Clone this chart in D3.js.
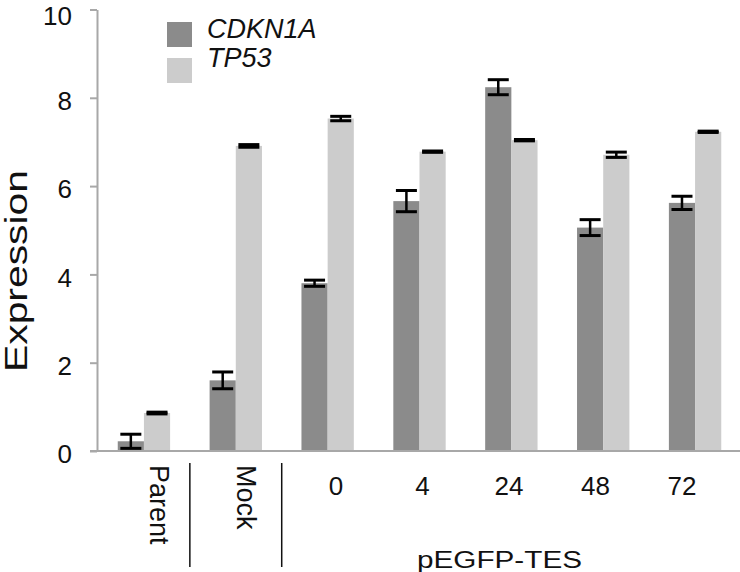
<!DOCTYPE html>
<html>
<head>
<meta charset="utf-8">
<script src="https://cdn.jsdelivr.net/npm/d3@7"></script>
<style>
  html, body { margin: 0; padding: 0; background: #fff; }
  svg { display: block; font-family: "Liberation Sans", Arial, sans-serif; }
</style>
</head>
<body>
<svg id="chart" width="740" height="572"></svg>
<script>
// ---- data ----
const categories = ["Parent", "Mock", "0", "4", "24", "48", "72"];
const seriesNames = ["CDKN1A", "TP53"];
const cdkn1a = [0.22, 1.60, 3.80, 5.66, 8.24, 5.06, 5.62];
const cdkn1aErr = [0.16, 0.19, 0.07, 0.24, 0.17, 0.18, 0.15];
const tp53 = [0.86, 6.91, 7.53, 6.78, 7.04, 6.71, 7.23];
const tp53Err = [0.02, 0.03, 0.05, 0.015, 0.015, 0.06, 0.015];
const yTicks = [0, 2, 4, 6, 8, 10];
const rotatedLabels = ["Parent", "Mock"];
const timeLabels = ["0", "4", "24", "48", "72"];
const groupLabel = "pEGFP-TES";
const yLabel = "Expression";

const colors = ["#8b8b8b", "#cccccc"];
const values = [cdkn1a, tp53];
const errs = [cdkn1aErr, tp53Err];

const svg = d3.select("#chart");

const x0 = d3.scaleBand().domain(categories).range([98, 741])
  .paddingInner(0.43).paddingOuter(0.215);
const x1 = d3.scaleBand().domain(seriesNames).range([0, x0.bandwidth()]);
const y = d3.scaleLinear().domain([0, 10]).range([451, 9.5]);

// ---- bars ----
const rows = [];
categories.forEach((c, i) => {
  seriesNames.forEach((s, j) => {
    rows.push({cat: c, series: s, v: values[j][i], e: errs[j][i], j});
  });
});

svg.append("g").selectAll("rect").data(rows).join("rect")
  .attr("x", d => x0(d.cat) + x1(d.series))
  .attr("y", d => y(d.v))
  .attr("width", x1.bandwidth())
  .attr("height", d => y(0) - y(d.v))
  .attr("fill", d => colors[d.j]);

// ---- error bars ----
const eg = svg.append("g").attr("stroke", "#000");
const cx = d => x0(d.cat) + x1(d.series) + x1.bandwidth() / 2;
eg.selectAll("line.stem").data(rows).join("line")
  .attr("class", "stem")
  .attr("x1", cx).attr("x2", cx)
  .attr("y1", d => y(d.v + d.e)).attr("y2", d => y(d.v - d.e))
  .attr("stroke-width", 2.5);
eg.selectAll("line.capT").data(rows).join("line")
  .attr("class", "capT")
  .attr("x1", d => cx(d) - 10.5).attr("x2", d => cx(d) + 10.5)
  .attr("y1", d => y(d.v + d.e)).attr("y2", d => y(d.v + d.e))
  .attr("stroke-width", 3);
eg.selectAll("line.capB").data(rows).join("line")
  .attr("class", "capB")
  .attr("x1", d => cx(d) - 10.5).attr("x2", d => cx(d) + 10.5)
  .attr("y1", d => y(d.v - d.e)).attr("y2", d => y(d.v - d.e))
  .attr("stroke-width", 3);

// ---- axes ----
const axisColor = "#a8a8a8";
const yAxis = svg.append("g").attr("transform", "translate(97,0)")
  .call(d3.axisLeft(y).tickValues(yTicks).tickSize(7).tickSizeOuter(0).tickFormat(d3.format("d")));
yAxis.select(".domain").attr("stroke", axisColor).attr("stroke-width", 2);
yAxis.selectAll(".tick line").attr("stroke", axisColor).attr("stroke-width", 2);
yAxis.selectAll(".tick text")
  .attr("x", -25).attr("dy", "0.45em")
  .attr("y", d => d === 10 ? 3 : 0)
  .attr("font-size", 26).attr("fill", "#111")
  .attr("font-family", "Liberation Sans, Arial, sans-serif");

svg.append("line")
  .attr("x1", 90).attr("x2", 740)
  .attr("y1", y(0)).attr("y2", y(0))
  .attr("stroke", axisColor).attr("stroke-width", 2);

// ---- x labels ----
const lblOffset = {Parent: 6, Mock: 1};
svg.append("g").selectAll("text").data(rotatedLabels).join("text")
  .attr("transform", d => `translate(${x0(d) + x0.bandwidth() / 2 + lblOffset[d]},465) rotate(90)`)
  .attr("font-size", 27).attr("fill", "#111")
  .text(d => d);

const xt = d3.scalePoint().domain(timeLabels).range([336, 682]);
svg.append("g").selectAll("text").data(timeLabels).join("text")
  .attr("x", d => xt(d)).attr("y", 495)
  .attr("text-anchor", "middle")
  .attr("font-size", 26).attr("fill", "#111")
  .text(d => d);

// separators
const seps = [(x0("Parent") + x0.bandwidth() + x0("Mock")) / 2,
              (x0("Mock") + x0.bandwidth() + x0("0")) / 2];
svg.append("g").selectAll("line").data(seps).join("line")
  .attr("x1", d => d).attr("x2", d => d)
  .attr("y1", 463).attr("y2", 567)
  .attr("stroke", "#111").attr("stroke-width", 1.5);

svg.append("text")
  .attr("x", 499.5).attr("y", 568)
  .attr("text-anchor", "middle")
  .attr("font-size", 23).attr("fill", "#111")
  .attr("textLength", 165).attr("lengthAdjust", "spacingAndGlyphs")
  .text(groupLabel);

// y label
svg.append("text")
  .attr("transform", "translate(27,271) rotate(-90)")
  .attr("text-anchor", "middle")
  .attr("font-size", 31).attr("fill", "#111")
  .attr("textLength", 202).attr("lengthAdjust", "spacingAndGlyphs")
  .text(yLabel);

// ---- legend ----
const lg = svg.append("g");
seriesNames.forEach((s, i) => {
  lg.append("rect")
    .attr("x", 167).attr("y", 22 + i * 36)
    .attr("width", 25).attr("height", 25)
    .attr("fill", colors[i]);
  lg.append("text")
    .attr("x", 207).attr("y", 38 + i * 29)
    .attr("font-size", 27).attr("font-style", "italic").attr("fill", "#111")
    .text(s);
});
</script>
</body>
</html>
